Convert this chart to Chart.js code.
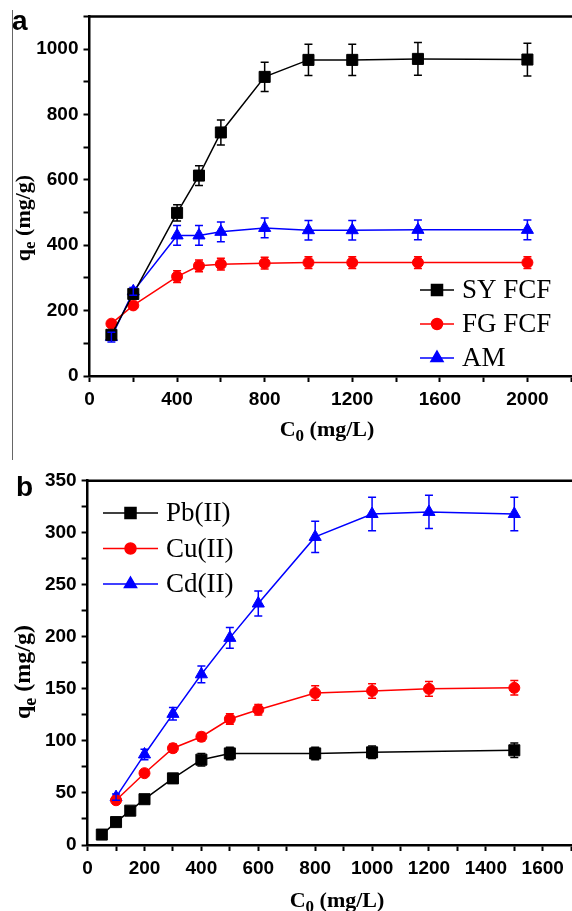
<!DOCTYPE html>
<html>
<head>
<meta charset="utf-8">
<script src="https://cdn.jsdelivr.net/npm/chart.js@4.4.0/dist/chart.umd.min.js"></script>
<style>
  html, body { margin: 0; padding: 0; background: #fff; overflow: hidden; }
  #wrap { position: relative; width: 572px; height: 911px; overflow: hidden; }
  canvas { position: absolute; left: 0; }
  #chartA { top: 0; }
  #chartB { top: 460px; }
  #rule { position: absolute; left: 12px; top: 10px; height: 450px; border-left: 1px solid #666; }
</style>
</head>
<body>
<div id="wrap">
  <div id="rule"></div>
  <canvas id="chartA" width="580" height="460"></canvas>
  <canvas id="chartB" width="580" height="451"></canvas>
</div>
<script>
// (a) dye uptake vs initial concentration
const dyeC0 = [100, 200, 400, 500, 600, 800, 1000, 1200, 1500, 2000];
const syFcf = [126, 251, 499, 613, 745, 915, 967, 967, 970, 968];
const syFcfErr = [8, 10, 25, 30, 38, 45, 48, 48, 50, 50];
const fgFcf = [160, 216, 304, 337, 342, 345, 347, 347, 347, 347];
const fgFcfErr = [6, 8, 18, 18, 18, 18, 18, 18, 18, 18];
const am = [119, 259, 430, 430, 441, 453, 446, 446, 447, 447];
const amErr = [15, 12, 30, 30, 30, 30, 30, 30, 30, 30];

// (b) metal ion uptake vs initial concentration
const pbC0 = [50, 100, 150, 200, 300, 400, 500, 800, 1000, 1500];
const pbQe = [10, 22, 33, 44, 64, 82, 88, 88, 89, 91];
const pbErr = [2, 2, 2, 3, 4, 6, 6, 6, 6, 7];
const metalC0 = [100, 200, 300, 400, 500, 600, 800, 1000, 1200, 1500];
const cuQe = [43, 69, 93, 104, 121, 130, 146, 148, 150, 151];
const cuErr = [3, 3, 4, 4, 5, 5, 7, 7, 7, 7];
const cdQe = [46, 87, 126, 164, 199, 232, 296, 318, 320, 318];
const cdErr = [3, 5, 6, 8, 10, 12, 15, 16, 16, 16];

const tickFont = { family: '"Liberation Sans", Arial, sans-serif', size: 19, weight: 'bold' };
const serif = '"Liberation Serif", "Times New Roman", serif';

function pts(xs, ys) {
  return xs.map((x, i) => ({ x: x, y: ys[i] }));
}

function series(label, xs, ys, errs, color, style, radius) {
  return {
    label: label,
    data: pts(xs, ys),
    errors: errs,
    borderColor: color,
    backgroundColor: color,
    borderWidth: 1.5,
    pointStyle: style,
    pointRadius: radius,
    pointBackgroundColor: color,
    pointBorderColor: color,
    pointBorderWidth: 1,
    tension: 0
  };
}

// text with a subscripted part, optionally rotated
function drawSubText(ctx, parts, x, y, angle, size) {
  ctx.save();
  ctx.translate(x, y);
  ctx.rotate(angle);
  const big = 'bold ' + size + 'px ' + serif;
  const small = 'bold ' + Math.round(size * 0.75) + 'px ' + serif;
  let total = 0;
  parts.forEach(p => { ctx.font = p.sub ? small : big; total += ctx.measureText(p.text).width; });
  let cx = -total / 2;
  ctx.textBaseline = 'middle';
  ctx.textAlign = 'left';
  ctx.fillStyle = '#000';
  parts.forEach(p => {
    ctx.font = p.sub ? small : big;
    ctx.fillText(p.text, cx, p.sub ? size * 0.3 : 0);
    cx += ctx.measureText(p.text).width;
  });
  ctx.restore();
}

const errorBars = {
  id: 'errorBars',
  afterDatasetsDraw(chart) {
    const ctx = chart.ctx;
    const yScale = chart.scales.y;
    chart.data.datasets.forEach((ds, i) => {
      const meta = chart.getDatasetMeta(i);
      ctx.save();
      ctx.strokeStyle = ds.borderColor;
      ctx.lineWidth = 1.5;
      meta.data.forEach((pt, j) => {
        const v = ds.data[j].y, e = ds.errors[j];
        const top = yScale.getPixelForValue(v + e);
        const bot = yScale.getPixelForValue(v - e);
        ctx.beginPath();
        ctx.moveTo(pt.x, top); ctx.lineTo(pt.x, bot);
        ctx.moveTo(pt.x - 4, top); ctx.lineTo(pt.x + 4, top);
        ctx.moveTo(pt.x - 4, bot); ctx.lineTo(pt.x + 4, bot);
        ctx.stroke();
      });
      ctx.restore();
    });
  }
};

const decor = {
  id: 'decor',
  afterDraw(chart, args, o) {
    const ctx = chart.ctx, area = chart.chartArea;
    ctx.save();
    // top frame
    ctx.strokeStyle = '#000';
    ctx.lineWidth = 2.5;
    ctx.beginPath();
    ctx.moveTo(area.left - 1.25, area.top);
    ctx.lineTo(chart.width, area.top);
    ctx.stroke();

    // panel letter
    ctx.fillStyle = '#000';
    ctx.font = 'bold 28px "Liberation Sans", Arial, sans-serif';
    ctx.textAlign = 'left';
    ctx.textBaseline = 'alphabetic';
    ctx.fillText(o.letter, o.letterX, o.letterY);

    drawSubText(ctx, o.xTitle, o.xTitleX, o.xTitleY, 0, o.xTitleSize);
    drawSubText(ctx, o.yTitle, o.yTitleX, o.yTitleY, -Math.PI / 2, o.yTitleSize);

    // legend
    chart.data.datasets.forEach((ds, i) => {
      const y = o.legendY + i * o.legendGap;
      ctx.strokeStyle = ds.borderColor;
      ctx.fillStyle = ds.borderColor;
      ctx.lineWidth = 1.5;
      ctx.beginPath();
      ctx.moveTo(o.legendX0, y);
      ctx.lineTo(o.legendX1, y);
      ctx.stroke();
      Chart.helpers.drawPoint(ctx, { pointStyle: ds.pointStyle, radius: ds.pointRadius, borderWidth: 1, rotation: 0 },
        (o.legendX0 + o.legendX1) / 2, y);
      ctx.fillStyle = '#000';
      ctx.font = '27px ' + serif;
      ctx.textBaseline = 'middle';
      ctx.fillText(ds.label, o.legendTextX, y + 1);
    });
    ctx.restore();
  }
};

function axes(xMax, xStep, xMajor, xLast, yMax, yStep, yMajor, yWidth, xHeight) {
  const grid = { drawOnChartArea: false, drawTicks: true, tickLength: 6, tickWidth: 2, tickColor: '#000' };
  const border = { display: true, width: 2.5, color: '#000' };
  return {
    x: {
      type: 'linear', min: 0, max: xMax,
      grid: grid, border: border,
      ticks: {
        stepSize: xStep, autoSkip: false, maxRotation: 0, padding: 6,
        color: '#000', font: tickFont,
        callback: v => (v % xMajor === 0 && v <= xLast) ? v : ''
      },
      afterFit(scale) { scale.height = xHeight; }
    },
    y: {
      min: 0, max: yMax,
      grid: grid, border: border,
      ticks: {
        stepSize: yStep, autoSkip: false, padding: 5,
        color: '#000', font: tickFont,
        callback: v => v % yMajor === 0 ? v : ''
      },
      afterFit(scale) { scale.width = yWidth; }
    }
  };
}

new Chart(document.getElementById('chartA'), {
  type: 'line',
  data: {
    datasets: [
      series('SY FCF', dyeC0, syFcf, syFcfErr, '#000000', 'rect', 7.8),
      series('FG FCF', dyeC0, fgFcf, fgFcfErr, '#ff0000', 'circle', 5.5),
      series('AM', dyeC0, am, amErr, '#0000ff', 'triangle', 7)
    ]
  },
  options: {
    responsive: false,
    animation: false,
    layout: { padding: { left: 0, top: 13.3, right: 3, bottom: 0 } },
    scales: axes(2200, 200, 400, 2000, 1100, 100, 200, 89.5, 84),
    plugins: {
      legend: { display: false },
      tooltip: { enabled: false },
      decor: {
        letter: 'a', letterX: 12, letterY: 30,
        xTitle: [{ text: 'C' }, { text: '0', sub: true }, { text: ' (mg/L)' }],
        xTitleX: 327, xTitleY: 430, xTitleSize: 22,
        yTitle: [{ text: 'q' }, { text: 'e', sub: true }, { text: ' (mg/g)' }],
        yTitleX: 24, yTitleY: 218, yTitleSize: 22,
        legendX0: 420, legendX1: 454, legendTextX: 462, legendY: 290, legendGap: 34
      }
    }
  },
  plugins: [errorBars, decor]
});

new Chart(document.getElementById('chartB'), {
  type: 'line',
  data: {
    datasets: [
      series('Pb(II)', pbC0, pbQe, pbErr, '#000000', 'rect', 7.8),
      series('Cu(II)', metalC0, cuQe, cuErr, '#ff0000', 'circle', 5.5),
      series('Cd(II)', metalC0, cdQe, cdErr, '#0000ff', 'triangle', 7)
    ]
  },
  options: {
    responsive: false,
    animation: false,
    layout: { padding: { left: 0, top: 20.7, right: 2, bottom: 0 } },
    scales: axes(1700, 100, 200, 1600, 350, 25, 50, 87.6, 66),
    plugins: {
      legend: { display: false },
      tooltip: { enabled: false },
      decor: {
        letter: 'b', letterX: 16, letterY: 36,
        xTitle: [{ text: 'C' }, { text: '0', sub: true }, { text: ' (mg/L)' }],
        xTitleX: 337, xTitleY: 441, xTitleSize: 22,
        yTitle: [{ text: 'q' }, { text: 'e', sub: true }, { text: ' (mg/g)' }],
        yTitleX: 24, yTitleY: 212, yTitleSize: 24,
        legendX0: 103, legendX1: 158, legendTextX: 166, legendY: 53, legendGap: 35.5
      }
    }
  },
  plugins: [errorBars, decor]
});
</script>
</body>
</html>
